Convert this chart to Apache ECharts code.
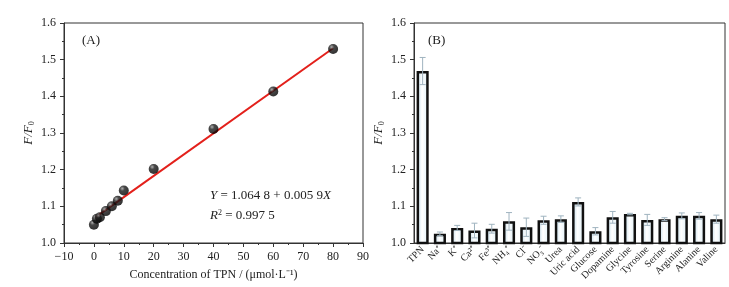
<!DOCTYPE html>
<html>
<head>
<meta charset="utf-8">
<script src="https://cdn.jsdelivr.net/npm/echarts@6/dist/echarts.min.js"></script>
<style>
  html, body { margin: 0; padding: 0; background: #fff; }
  #chart { width: 729px; height: 287px; }
</style>
</head>
<body>
<div id="chart"></div>
<script>
// (A) calibration points
const concX = [0, 1, 2, 4, 6, 8, 10, 20, 40, 60, 80];
const ratioY = [1.050, 1.066, 1.070, 1.087, 1.100, 1.115, 1.143, 1.202, 1.311, 1.413, 1.529];
// fitted line end points
const fitX = [0.5, 80];
const fitY = [1.070, 1.531];

// (B) selectivity
const species = ['TPN', 'Na⁺', 'K⁺', 'Ca²⁺', 'Fe³⁺', 'NH₄⁺', 'Cl⁻', 'NO₃⁻', 'Urea', 'Uric acid',
  'Glucose', 'Dopamine', 'Glycine', 'Tyrosine', 'Serine', 'Arginine', 'Alanine', 'Valine'];
const response = [1.469, 1.025, 1.041, 1.034, 1.039, 1.059, 1.043, 1.062, 1.065, 1.112,
  1.032, 1.070, 1.079, 1.063, 1.065, 1.074, 1.074, 1.065];
const errs = [0.037, 0.005, 0.007, 0.020, 0.012, 0.024, 0.025, 0.011, 0.009, 0.011,
  0.010, 0.016, 0.002, 0.015, 0.004, 0.008, 0.009, 0.011];

const FONT = 'Liberation Serif';
const AXIS = '#333';

const chart = echarts.init(document.getElementById('chart'));

const yName = {
  name: '{i|F/F}{s|0}',
  nameLocation: 'middle',
  nameRotate: 90,
  nameGap: 28,
  nameTextStyle: {
    rich: {
      i: { fontFamily: FONT, fontStyle: 'italic', fontSize: 13, color: '#222' },
      s: { fontFamily: FONT, fontSize: 8, color: '#222', verticalAlign: 'bottom', padding: [6, 0, 0, 0] },
    },
  },
};

function valueY(gridIndex) {
  return Object.assign({
    type: 'value',
    gridIndex: gridIndex,
    min: 1.0,
    max: 1.6,
    interval: 0.1,
    axisLine: { show: true, onZero: false, lineStyle: { color: AXIS } },
    axisTick: { show: true, length: 4, lineStyle: { color: AXIS } },
    minorTick: { show: true, splitNumber: 2, length: 2, lineStyle: { color: AXIS } },
    splitLine: { show: false },
    axisLabel: { fontFamily: FONT, fontSize: 12, color: '#222', formatter: v => v.toFixed(1) },
  }, yName);
}

const errData = response.map((v, i) => [i, v - errs[i], v + errs[i]]);

const option = {
  animation: false,
  grid: [
    { left: 64, right: 366, top: 23, bottom: 44, show: true, borderColor: AXIS, borderWidth: 1 },
    { left: 414, right: 4, top: 23, bottom: 44, show: true, borderColor: AXIS, borderWidth: 1 },
  ],
  xAxis: [
    {
      type: 'value',
      gridIndex: 0,
      min: -10,
      max: 90,
      interval: 10,
      axisLine: { show: true, onZero: false, lineStyle: { color: AXIS } },
      axisTick: { show: true, length: 4, lineStyle: { color: AXIS } },
      minorTick: { show: true, splitNumber: 2, length: 2, lineStyle: { color: AXIS } },
      splitLine: { show: false },
      axisLabel: { fontFamily: FONT, fontSize: 12, color: '#222', formatter: v => String(v).replace('-', '−') },
      name: 'Concentration of TPN / (μmol·L⁻¹)',
      nameLocation: 'middle',
      nameGap: 26,
      nameTextStyle: { fontFamily: FONT, fontSize: 12, color: '#222' },
    },
    {
      type: 'category',
      gridIndex: 1,
      data: species,
      axisLine: { show: true, onZero: false, lineStyle: { color: AXIS } },
      axisTick: { show: false },
      axisLabel: { fontFamily: FONT, fontSize: 10, color: '#222', rotate: 45, interval: 0, margin: 5 },
    },
  ],
  yAxis: [valueY(0), valueY(1)],
  series: [
    {
      type: 'line',
      xAxisIndex: 0,
      yAxisIndex: 0,
      data: fitX.map((x, i) => [x, fitY[i]]),
      showSymbol: false,
      lineStyle: { color: '#e3201b', width: 2 },
      z: 2,
    },
    {
      type: 'scatter',
      xAxisIndex: 0,
      yAxisIndex: 0,
      data: concX.map((x, i) => [x, ratioY[i]]),
      symbolSize: 10,
      itemStyle: {
        color: new echarts.graphic.RadialGradient(0.35, 0.3, 0.7, [
          { offset: 0, color: '#9a9a9a' },
          { offset: 0.35, color: '#1a1a1a' },
          { offset: 1, color: '#000' },
        ]),
      },
      z: 3,
    },
    {
      type: 'bar',
      xAxisIndex: 1,
      yAxisIndex: 1,
      data: response,
      barWidth: '70%',
      itemStyle: {
        color: new echarts.graphic.LinearGradient(0, 0, 1, 0, [
          { offset: 0, color: '#bcd9e8' },
          { offset: 0.45, color: '#ffffff' },
          { offset: 1, color: '#dceef6' },
        ]),
        borderColor: '#111',
        borderWidth: 2.5,
      },
    },
    {
      type: 'custom',
      xAxisIndex: 1,
      yAxisIndex: 1,
      data: errData,
      z: 5,
      renderItem: function (params, api) {
        const lo = api.coord([api.value(0), api.value(1)]);
        const hi = api.coord([api.value(0), api.value(2)]);
        const half = 3;
        const style = { stroke: '#9fb3bf', lineWidth: 1 };
        return {
          type: 'group',
          children: [
            { type: 'line', shape: { x1: hi[0], y1: hi[1], x2: lo[0], y2: lo[1] }, style: style },
            { type: 'line', shape: { x1: hi[0] - half, y1: hi[1], x2: hi[0] + half, y2: hi[1] }, style: style },
            { type: 'line', shape: { x1: lo[0] - half, y1: lo[1], x2: lo[0] + half, y2: lo[1] }, style: style },
          ],
        };
      },
    },
  ],
  graphic: [
    { type: 'text', left: 82, top: 34, style: { text: '(A)', font: '13px ' + FONT, fill: '#222' } },
    { type: 'text', left: 428, top: 34, style: { text: '(B)', font: '13px ' + FONT, fill: '#222' } },
    {
      type: 'text', left: 210, top: 189,
      style: {
        text: '{i|Y} = 1.064 8 + 0.005 9{i|X}',
        font: '13px ' + FONT, fill: '#222',
        rich: { i: { fontFamily: FONT, fontSize: 13, fontStyle: 'italic', fill: '#222' } },
      },
    },
    {
      type: 'text', left: 210, top: 209,
      style: {
        text: '{i|R}{s|2} = 0.997 5',
        font: '13px ' + FONT, fill: '#222',
        rich: {
          i: { fontFamily: FONT, fontSize: 13, fontStyle: 'italic', fill: '#222' },
          s: { fontFamily: FONT, fontSize: 8, fill: '#222', verticalAlign: 'top', padding: [0, 0, 6, 0] },
        },
      },
    },
  ],
};

chart.setOption(option);
</script>
</body>
</html>
